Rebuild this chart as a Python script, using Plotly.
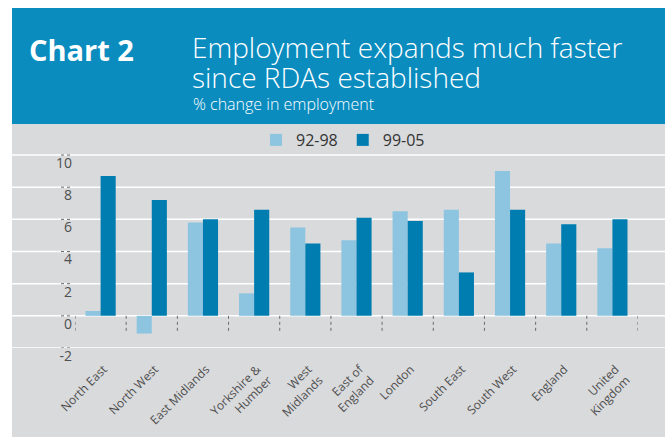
import plotly.graph_objects as go

# ---------------- data ----------------
categories = ["North East", "North West", "East Midlands", "Yorkshire &<br>Humber",
              "West<br>Midlands", "East of<br>England", "London", "South East",
              "South West", "England", "United<br>Kingdom"]
series_names = ["92-98", "99-05"]
values_92_98 = [0.3, -1.1, 5.8, 1.4, 5.5, 4.7, 6.5, 6.6, 9.0, 4.5, 4.2]
values_99_05 = [8.7, 7.2, 6.0, 6.6, 4.5, 6.1, 5.9, 2.7, 6.6, 5.7, 6.0]
y_ticks = [-2, 0, 2, 4, 6, 8, 10]
y_tick_labels = ["-2", "0", "2", "4", "6", "8", "10"]

# ---------------- layout geometry ----------------
W, H = 665, 437
L, R, T, B = 75, 27, 147, 89
FONT = "Open Sans"
LIGHT = "#8DC4E0"
DARK = "#007DB0"
HEADER = "#0A8CBF"
PANEL = "#D9DADC"
TXT = "#4F4F4F"


def px_x(px):
    return (px - L) / (W - L - R)


def px_y(py):
    return (H - B - py) / (H - T - B)


fig = go.Figure()
fig.add_trace(go.Bar(name=series_names[0], x=categories, y=values_92_98,
                     marker=dict(color=LIGHT, line=dict(width=0))))
fig.add_trace(go.Bar(name=series_names[1], x=categories, y=values_99_05,
                     marker=dict(color=DARK, line=dict(width=0))))

shapes = []
# grey panel
shapes.append(dict(type="rect", xref="paper", yref="paper", layer="below",
                   x0=px_x(12), x1=px_x(666), y0=px_y(438), y1=px_y(124),
                   fillcolor=PANEL, line=dict(width=0)))
# blue header
shapes.append(dict(type="rect", xref="paper", yref="paper", layer="below",
                   x0=px_x(12), x1=px_x(666), y0=px_y(124), y1=px_y(8),
                   fillcolor=HEADER, line=dict(width=0)))
# gridlines across the whole panel
for v in y_ticks:
    shapes.append(dict(type="line", xref="paper", yref="y", layer="below",
                       x0=px_x(12), x1=px_x(666), y0=v, y1=v,
                       line=dict(color="white", width=1.5)))
    shapes.append(dict(type="line", xref="paper", yref="y", layer="above",
                       x0=px_x(61), x1=px_x(73), y0=v, y1=v,
                       line=dict(color="#6A6A6A", width=1, dash="dot")))
# dotted category boundary ticks below zero line
for i in range(len(categories) + 1):
    shapes.append(dict(type="line", xref="x", yref="y", layer="above",
                       ysizemode="pixel", yanchor=0,
                       x0=i - 0.5, x1=i - 0.5, y0=0, y1=-18,
                       line=dict(color="#6A6A6A", width=1, dash="dot")))

annotations = [
    dict(text="<b>Chart 2</b>", xref="paper", yref="paper",
         x=px_x(27), y=px_y(49), xanchor="left", yanchor="middle", showarrow=False,
         font=dict(family=FONT, size=29, color="white")),
    dict(text="Employment expands much faster", xref="paper", yref="paper",
         x=px_x(190), y=px_y(47), xanchor="left", yanchor="middle", showarrow=False,
         font=dict(family=FONT, size=28, color="white", weight=300)),
    dict(text="since RDAs established", xref="paper", yref="paper",
         x=px_x(190), y=px_y(77), xanchor="left", yanchor="middle", showarrow=False,
         font=dict(family=FONT, size=28, color="white", weight=300)),
    dict(text="% change in employment", xref="paper", yref="paper",
         x=px_x(191), y=px_y(104), xanchor="left", yanchor="middle", showarrow=False,
         font=dict(family=FONT, size=16, color="white", weight=300)),
]

fig.update_layout(
    width=W, height=H,
    margin=dict(l=L, r=R, t=T, b=B, pad=0, autoexpand=False),
    paper_bgcolor="white",
    plot_bgcolor="rgba(0,0,0,0)",
    barmode="group", bargap=0.41, bargroupgap=0,
    font=dict(family=FONT, color=TXT),
    shapes=shapes,
    annotations=annotations,
    showlegend=True,
    legend=dict(orientation="h", x=px_x(343), y=px_y(140), xanchor="center",
                yanchor="middle", bgcolor="rgba(0,0,0,0)",
                font=dict(family=FONT, size=16, color="#333333")),
    xaxis=dict(type="category", range=[-0.5, len(categories) - 0.5],
               showgrid=False, zeroline=False, showline=False, ticks="",
               automargin=False,
               tickangle=-45, tickfont=dict(family=FONT, size=12, color=TXT),
               ticklabelstandoff=11, ticklabelshift=3, fixedrange=True),
    yaxis=dict(range=[-2, 10.5], tickvals=y_ticks, ticktext=y_tick_labels,
               showgrid=False, zeroline=False, showline=False, ticks="",
               automargin=False,
               tickfont=dict(family=FONT, size=14, color=TXT),
               ticklabelshift=8, ticklabelstandoff=2, fixedrange=True),
)

fig.write_html("out.html")
